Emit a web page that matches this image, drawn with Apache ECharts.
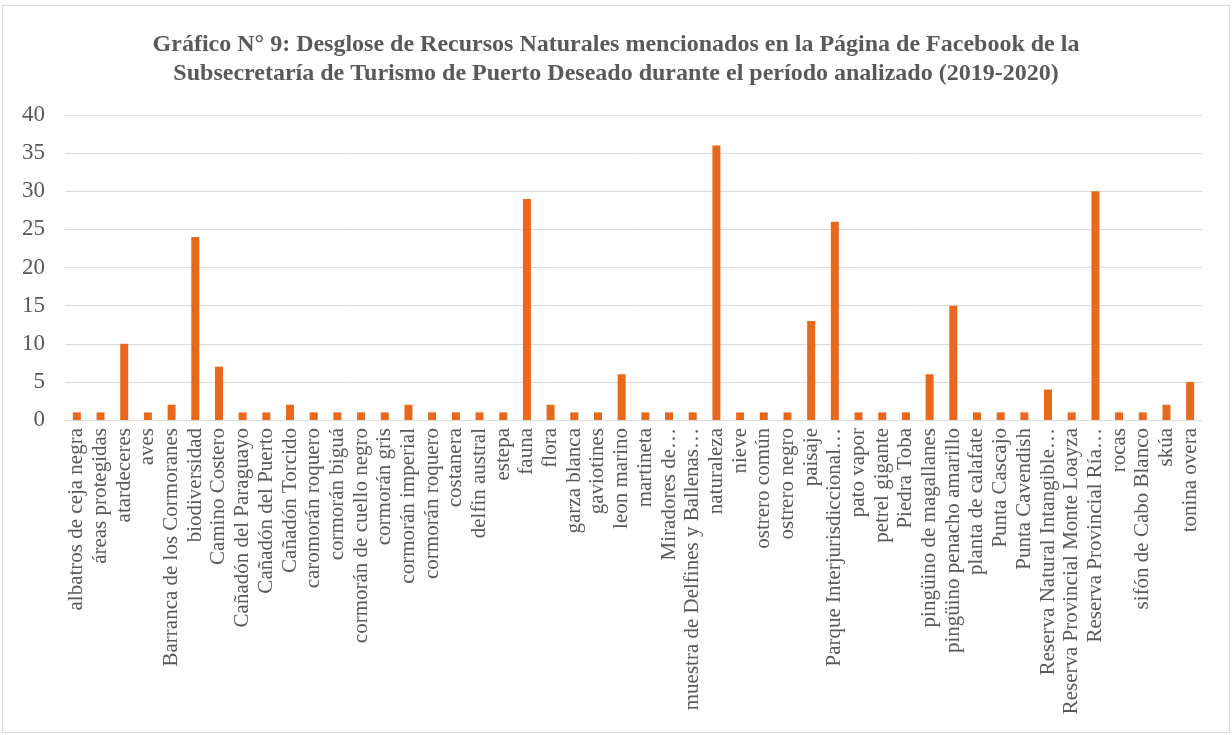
<!DOCTYPE html>
<html>
<head>
<meta charset="utf-8">
<script src="https://cdn.jsdelivr.net/npm/echarts@6/dist/echarts.min.js"></script>
<style>
html,body{margin:0;padding:0;background:#fff;}
#frame{position:absolute;left:2px;top:5px;width:1226px;height:726px;border:1px solid #d9d9d9;}
#chart{position:absolute;left:0;top:0;width:1232px;height:735px;}
</style>
</head>
<body>
<div id="frame"></div>
<div id="chart"></div>
<script>
const categories = [
  "albatros de ceja negra","áreas protegidas","atardeceres","aves","Barranca de los Cormoranes",
  "biodiversidad","Camino Costero","Cañadón del Paraguayo","Cañadón del Puerto","Cañadón Torcido",
  "caromorán roquero","cormorán biguá","cormorán de cuello negro","cormorán gris","cormorán imperial",
  "cormorán roquero","costanera","delfin austral","estepa","fauna",
  "flora","garza blanca","gaviotines","leon marino","martineta",
  "Miradores de…","muestra de Delfines y Ballenas…","naturaleza","nieve","ostrero común",
  "ostrero negro","paisaje","Parque Interjurisdiccional…","pato vapor","petrel gigante",
  "Piedra Toba","pingüino de magallanes","pingüino penacho amarillo","planta de calafate","Punta Cascajo",
  "Punta Cavendish","Reserva Natural Intangible…","Reserva Provincial Monte Loayza","Reserva Provincial Ría…","rocas",
  "sifón de Cabo Blanco","skúa","tonina overa"
];
const values = [
  1,1,10,1,2,
  24,7,1,1,2,
  1,1,1,1,2,
  1,1,1,1,29,
  2,1,1,6,1,
  1,1,36,1,1,
  1,13,26,1,1,
  1,6,15,1,1,
  1,4,1,30,1,
  1,2,5
];
const titleText = "Gráfico N° 9: Desglose de Recursos Naturales mencionados en la Página de Facebook de la\nSubsecretaría de Turismo de Puerto Deseado durante el período analizado (2019-2020)";

const chart = echarts.init(document.getElementById('chart'), null, {renderer:'canvas'});
chart.setOption({
  animation:false,
  backgroundColor:'transparent',
  title:{
    text:titleText,
    left:'center',
    top:25,
    textStyle:{fontFamily:'Liberation Serif',fontWeight:'bold',fontSize:24,color:'#595959',lineHeight:29}
  },
  grid:{left:65,right:30,top:115,bottom:315,containLabel:false},
  xAxis:{
    type:'category',
    data:categories,
    axisLine:{lineStyle:{color:'#d9d9d9',width:1}},
    axisTick:{show:false},
    axisLabel:{interval:0,rotate:90,fontFamily:'Liberation Serif',fontSize:21,color:'#595959',margin:8}
  },
  yAxis:{
    type:'value',
    min:0,max:40,interval:5,
    axisLine:{show:false},
    axisTick:{show:false},
    splitLine:{lineStyle:{color:'#d9d9d9',width:1}},
    axisLabel:{fontFamily:'Liberation Serif',fontSize:23,color:'#595959',margin:20}
  },
  series:[{
    type:'bar',
    data:values,
    barWidth:8,
    itemStyle:{color:'#E8691C'}
  }]
});
</script>
</body>
</html>
